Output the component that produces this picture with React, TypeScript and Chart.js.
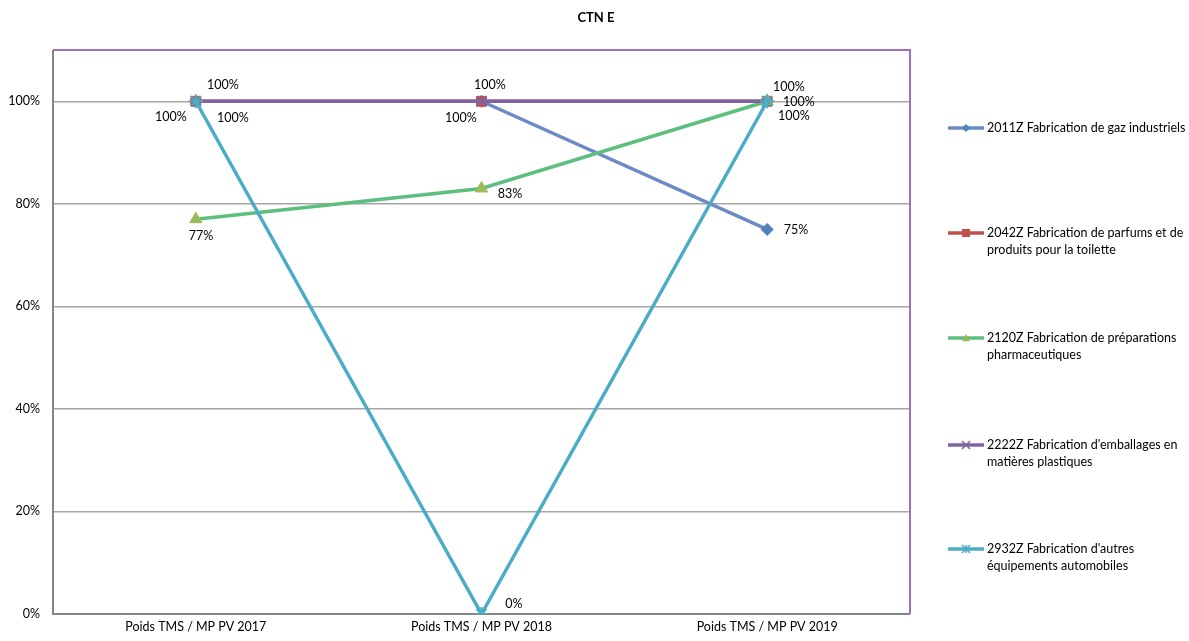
import React, { useEffect, useRef } from "react";
import { Chart, registerables } from "chart.js";

Chart.register(...registerables);

const title = "CTN E";
const categories = ["Poids TMS / MP PV 2017", "Poids TMS / MP PV 2018", "Poids TMS / MP PV 2019"];
const seriesNames = [
  ["2011Z Fabrication de gaz industriels"],
  ["2042Z Fabrication de parfums et de", "produits pour la toilette"],
  ["2120Z Fabrication de préparations", "pharmaceutiques"],
  ["2222Z Fabrication d'emballages en", "matières plastiques"],
  ["2932Z Fabrication d'autres", "équipements automobiles"],
];
const gaz = [null, 1.0, 0.75];
const parfums = [1.0, 1.0, 1.0];
const pharma = [0.77, 0.83, 1.0];
const emballages = [1.0, 1.0, 1.0];
const auto = [1.0, 0.0, 1.0];

const lineColors = ["#6C8AC6", "#C0504D", "#5CBF7D", "#8064A2", "#4BACC6"];
const markerColors = ["#4F81BD", "#C0504D", "#9BBB59", "#8064A2", "#4BACC6"];
const markerStyles = ["rectRot", "rect", "triangle", "crossRot", "star"];
const markerSizes = [6, 7, 7, 6, 7];

// label offsets (dx, dy) per dataset per point
const labelOffsets = [
  [[0, 0], [8, -16], [29, 1]],
  [[-25, 16], [-21, 17], [22, -14]],
  [[5, 17], [28, 6], [32, 1]],
  [[27, -16], [8, -16], [32, 1]],
  [[37, 17], [32, -10], [27, 15]],
];

const FONT = "Lato, 'Open Sans', sans-serif";

function drawMarker(ctx: CanvasRenderingContext2D, style: string, x: number, y: number, r: number) {
  ctx.beginPath();
  if (style === "rectRot") {
    ctx.moveTo(x, y - r); ctx.lineTo(x + r, y); ctx.lineTo(x, y + r); ctx.lineTo(x - r, y); ctx.closePath(); ctx.fill();
  } else if (style === "rect") {
    ctx.rect(x - r, y - r, 2 * r, 2 * r); ctx.fill();
  } else if (style === "triangle") {
    ctx.moveTo(x, y - r); ctx.lineTo(x + r, y + r * 0.8); ctx.lineTo(x - r, y + r * 0.8); ctx.closePath(); ctx.fill();
  } else if (style === "crossRot") {
    ctx.moveTo(x - r, y - r); ctx.lineTo(x + r, y + r); ctx.moveTo(x + r, y - r); ctx.lineTo(x - r, y + r); ctx.stroke();
  } else {
    ctx.moveTo(x - r, y - r); ctx.lineTo(x + r, y + r); ctx.moveTo(x + r, y - r); ctx.lineTo(x - r, y + r);
    ctx.moveTo(x, y - r); ctx.lineTo(x, y + r); ctx.stroke();
  }
}

export default function App() {
  const ref = useRef<HTMLCanvasElement>(null);
  useEffect(() => {
    document.body.style.margin = "0";
    const seriesData = [gaz, parfums, pharma, emballages, auto];
    const datasets = seriesData.map((d, i) => ({
      label: seriesNames[i].join(" "),
      data: d,
      borderColor: lineColors[i],
      backgroundColor: markerColors[i],
      pointBackgroundColor: markerColors[i],
      pointBorderColor: markerColors[i],
      pointStyle: markerStyles[i] as any,
      pointRadius: markerSizes[i],
      pointBorderWidth: i >= 3 ? 2 : 1,
      borderWidth: 3.5,
      tension: 0,
      spanGaps: false,
      order: 5 - i,
    }));

    const decor = {
      id: "decor",
      beforeDatasetsDraw(chart: any) {
        const { ctx, chartArea: a } = chart;
        ctx.save();
        ctx.lineWidth = 2;
        ctx.strokeStyle = "#A070C0";
        ctx.beginPath();
        ctx.moveTo(a.left, a.top);
        ctx.lineTo(a.right, a.top);
        ctx.lineTo(a.right, a.bottom);
        ctx.stroke();
        ctx.strokeStyle = "#868686";
        ctx.beginPath();
        ctx.moveTo(a.left, a.top);
        ctx.lineTo(a.left, a.bottom);
        ctx.lineTo(a.right, a.bottom);
        ctx.stroke();
        ctx.restore();
      },
      afterDatasetsDraw(chart: any) {
        const { ctx } = chart;
        ctx.save();
        ctx.font = `12.5px ${FONT}`;
        ctx.fillStyle = "#000";
        ctx.textAlign = "center";
        ctx.textBaseline = "middle";
        const seen = new Set<string>();
        chart.data.datasets.forEach((ds: any, i: number) => {
          const meta = chart.getDatasetMeta(i);
          meta.data.forEach((pt: any, j: number) => {
            const v = ds.data[j];
            if (v === null || v === undefined) return;
            const [dx, dy] = labelOffsets[i][j];
            const txt = Math.round(v * 100) + "%";
            const x = Math.round(pt.x + dx), y = Math.round(pt.y + dy);
            const key = `${txt}@${x},${y}`;
            if (seen.has(key)) return;
            seen.add(key);
            ctx.fillText(txt, x, y);
          });
        });
        ctx.restore();
      },
      afterDraw(chart: any) {
        const { ctx } = chart;
        ctx.save();
        ctx.font = `bold 13px ${FONT}`;
        ctx.fillStyle = "#000";
        ctx.textAlign = "center";
        ctx.textBaseline = "middle";
        ctx.fillText(title, 596, 18);
        const tops = [128, 233, 338, 445, 549];
        ctx.font = `12.5px ${FONT}`;
        ctx.textAlign = "left";
        seriesNames.forEach((lines, i) => {
          const y = tops[i];
          ctx.strokeStyle = lineColors[i];
          ctx.lineWidth = 3.5;
          ctx.beginPath();
          ctx.moveTo(948, y);
          ctx.lineTo(984, y);
          ctx.stroke();
          ctx.fillStyle = markerColors[i];
          ctx.strokeStyle = markerColors[i];
          ctx.lineWidth = 1.5;
          drawMarker(ctx, markerStyles[i], 966, y, 4);
          ctx.fillStyle = "#000";
          lines.forEach((t, k) => ctx.fillText(t, 987, y + k * 17));
        });
        ctx.restore();
      },
    };

    const chart = new Chart(ref.current!, {
      type: "line",
      data: { labels: categories, datasets: datasets as any },
      options: {
        animation: false,
        responsive: false,
        maintainAspectRatio: false,
        layout: { padding: { top: 50, right: 279, left: 0, bottom: 0 } },
        plugins: {
          legend: { display: false },
          title: { display: false },
          tooltip: { enabled: false },
        },
        scales: {
          x: {
            offset: true,
            grid: { display: false, drawTicks: false },
            border: { display: false },
            ticks: { color: "#000", font: { family: FONT, size: 12.5 }, padding: 5, maxRotation: 0 },
            afterFit: (s: any) => { s.height = 27; },
          },
          y: {
            min: 0,
            max: 1.1,
            grid: {
              color: (c: any) => (c.tick && (Math.abs(c.tick.value - 1.1) < 1e-6 || c.tick.value === 0)) ? "rgba(0,0,0,0)" : "#A6A6A6",
              lineWidth: 1.5,
              drawTicks: false,
            },
            border: { display: false },
            ticks: {
              stepSize: 0.2,
              color: "#000",
              font: { family: FONT, size: 12.5 },
              padding: 13,
              callback: (v: any) => (Math.abs(v - 1.1) < 1e-6 ? "" : Math.round(v * 100) + "%"),
            },
            afterFit: (s: any) => { s.width = 53; },
          },
        },
      },
      plugins: [decor],
    });
    return () => chart.destroy();
  }, []);
  return (
    <div style={{ width: 1189, height: 641 }}>
      <canvas ref={ref} width={1189} height={641} style={{ display: "block" }} />
    </div>
  );
}
